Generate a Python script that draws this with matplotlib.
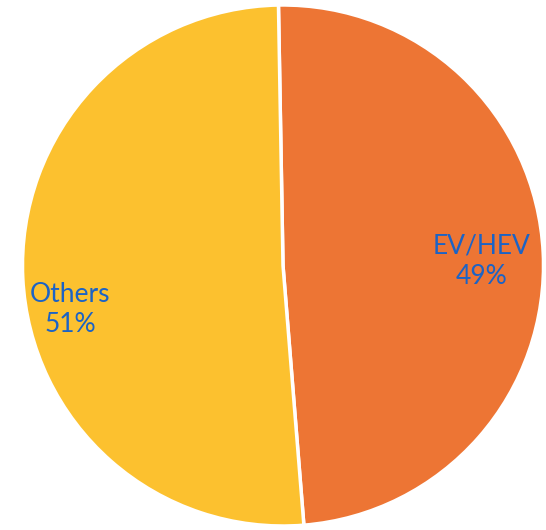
import matplotlib.pyplot as plt

plt.rcParams['font.family'] = ['Lato', 'DejaVu Sans']

labels = ['EV/HEV', 'Others']
shares = [49, 51]
colors = ['#ED7534', '#FCC12F']
label_pos = [(0.762, 0.017), (-0.818, -0.167)]

fig = plt.figure(figsize=(5.46, 5.30), dpi=100)
ax = fig.add_axes([22.5 / 546, 4 / 530, 521 / 546, 521 / 530])

ax.pie(shares, colors=colors, startangle=91, counterclock=False,
       wedgeprops=dict(edgecolor='white', linewidth=2.5))
ax.set_xlim(-1, 1)
ax.set_ylim(-1, 1)
ax.axis('off')

for lab, val, (x, y) in zip(labels, shares, label_pos):
    ax.text(x, y, '%s\n%d%%' % (lab, val), ha='center', va='center',
            color='#1B63C6', fontsize=19, linespacing=1.25)

fig.savefig('out.png', dpi=100)
